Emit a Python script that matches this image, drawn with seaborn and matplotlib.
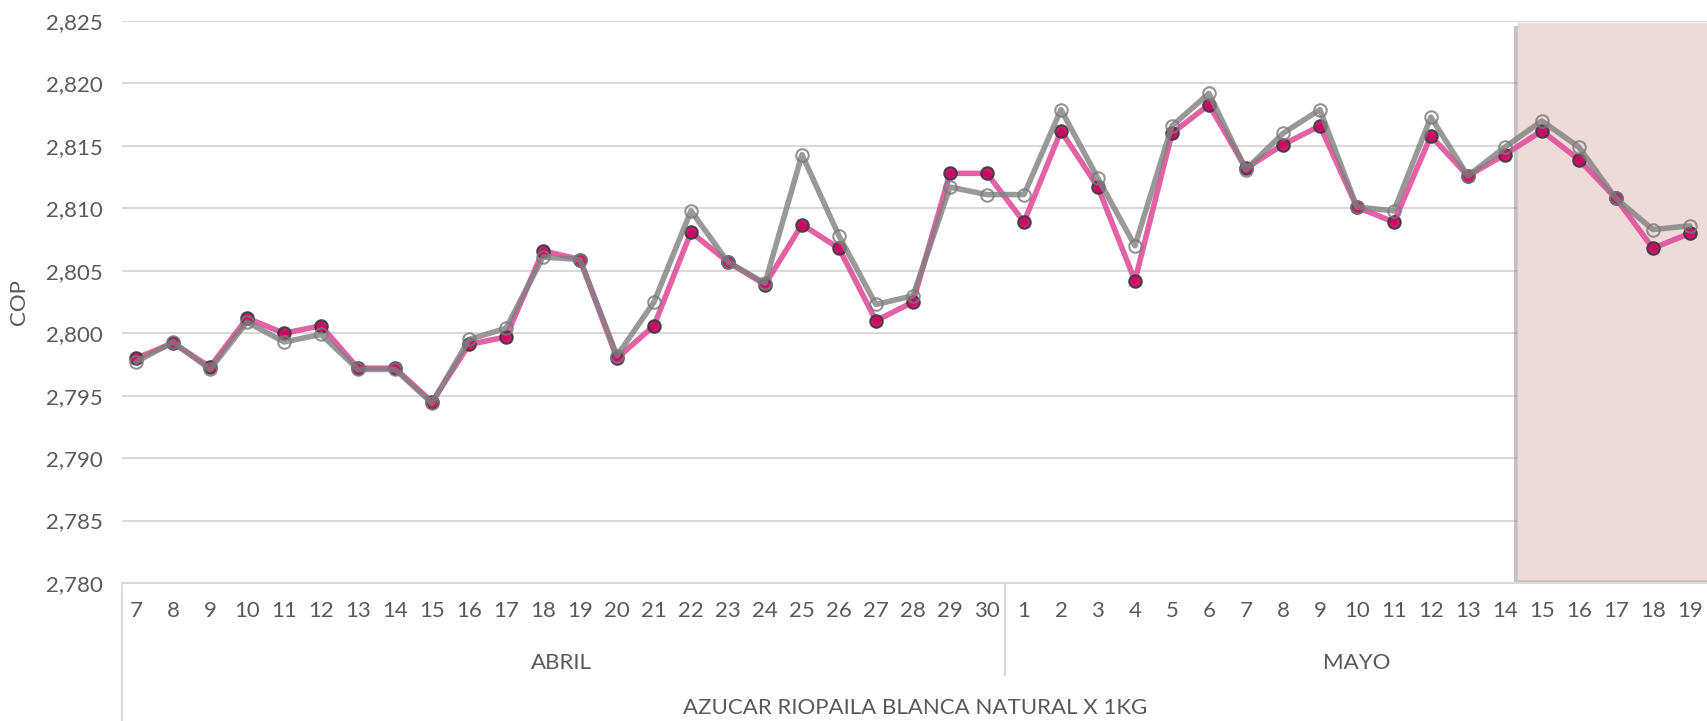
import numpy as np
import pandas as pd
import matplotlib
matplotlib.use("Agg")
import matplotlib.pyplot as plt
import matplotlib.patheffects as pe
from matplotlib.ticker import FuncFormatter, MultipleLocator
import seaborn as sns

# data
days_abril = list(range(7, 31))
days_mayo = list(range(1, 20))
months = ["ABRIL", "MAYO"]
product = "AZUCAR RIOPAILA BLANCA NATURAL X 1KG"

pink_vals = [2798.0, 2799.2, 2797.3, 2801.2, 2800.0, 2800.6, 2797.2, 2797.2, 2794.5, 2799.1,
             2799.7, 2806.6, 2805.9, 2798.0, 2800.6, 2808.1, 2805.7, 2803.9, 2808.7, 2806.8,
             2801.0, 2802.5, 2812.8, 2812.8,
             2808.9, 2816.2, 2811.7, 2804.2, 2816.0, 2818.3, 2813.2, 2815.1, 2816.6, 2810.1,
             2808.9, 2815.8, 2812.6, 2814.3, 2816.2, 2813.9, 2810.8, 2806.8, 2808.0]
gray_vals = [2797.7, 2799.3, 2797.1, 2800.9, 2799.3, 2799.9, 2797.1, 2797.1, 2794.4, 2799.5,
             2800.4, 2806.1, 2805.9, 2798.2, 2802.5, 2809.8, 2805.7, 2804.0, 2814.3, 2807.8,
             2802.3, 2803.0, 2811.7, 2811.1,
             2811.1, 2817.9, 2812.4, 2807.0, 2816.6, 2819.2, 2813.1, 2816.0, 2817.9, 2810.1,
             2809.8, 2817.3, 2812.6, 2814.9, 2817.0, 2814.9, 2810.8, 2808.3, 2808.6]

day_labels = [str(d) for d in days_abril + days_mayo]
n = len(day_labels)
df = pd.DataFrame({"idx": np.arange(n), "pink": pink_vals, "gray": gray_vals})

sns.set_style("white")
plt.rcParams["font.family"] = ["Lato", "DejaVu Sans"]
fs = 16
txt_col = "#595959"

fig = plt.figure(figsize=(17.08, 7.21), dpi=100)
ax = fig.add_axes([122 / 1708, 1 - 583 / 721, 1 - 122 / 1708, (583 - 21) / 721])

# highlighted region (last days)
span = ax.axvspan(37.35, 43, ymin=0.008, ymax=0.997, color="#efdada", zorder=1)
span.set_path_effects([pe.SimplePatchShadow(offset=(-2.5, -2.5), shadow_rgbFace="#8a8a8a", alpha=0.5),
                       pe.Normal()])

sns.lineplot(data=df, x="idx", y="pink", ax=ax, color="#e0509a", lw=4, alpha=0.9,
             marker="o", markersize=9, markerfacecolor="#c8005f", markeredgecolor="#3a3a3a",
             markeredgewidth=1.5, zorder=3)
sns.lineplot(data=df, x="idx", y="gray", ax=ax, color="#808080", lw=4, alpha=0.8,
             marker="o", markersize=9, markerfacecolor="none", markeredgecolor="#7a7a7a",
             markeredgewidth=1.5, zorder=4)

ax.set_ylim(2780, 2825)
ax.set_xlim(-0.38, 42.49)
ax.yaxis.set_major_locator(MultipleLocator(5))
ax.yaxis.set_major_formatter(FuncFormatter(lambda v, p: f"{v:,.0f}"))
ax.grid(axis="y", color="#d9d9d9", lw=1.5)
ax.set_axisbelow(True)
for s in ["top", "right", "left"]:
    ax.spines[s].set_visible(False)
ax.spines["bottom"].set_color("#d9d9d9")
ax.spines["bottom"].set_linewidth(1.5)

ax.set_xticks(range(n))
ax.set_xticklabels(day_labels)
ax.tick_params(axis="x", length=0, pad=13, labelsize=fs, labelcolor=txt_col)
ax.tick_params(axis="y", length=0, pad=14, labelsize=fs, labelcolor=txt_col)
ax.set_xlabel("")
ax.set_ylabel("COP", fontsize=fs, color=txt_col, labelpad=12)

# month and product labels under the day labels
trans = ax.get_xaxis_transform()
n_abr = len(days_abril)
ax.text((n_abr - 1) / 2, -0.142, months[0], transform=trans, ha="center", va="center",
        fontsize=fs, color=txt_col)
ax.text(n_abr + (len(days_mayo) - 1) / 2, -0.142, months[1], transform=trans, ha="center",
        va="center", fontsize=fs, color=txt_col)
ax.text(0.5, -0.222, product, transform=ax.transAxes, ha="center", va="center",
        fontsize=fs, color=txt_col)
ax.plot([n_abr - 0.5, n_abr - 0.5], [0, -0.164], transform=trans, color="#d9d9d9",
        lw=1.5, clip_on=False)
ax.plot([0, 0], [0, -0.26], transform=ax.transAxes, color="#d9d9d9", lw=1.5, clip_on=False)

fig.savefig("out.png", dpi=100)
